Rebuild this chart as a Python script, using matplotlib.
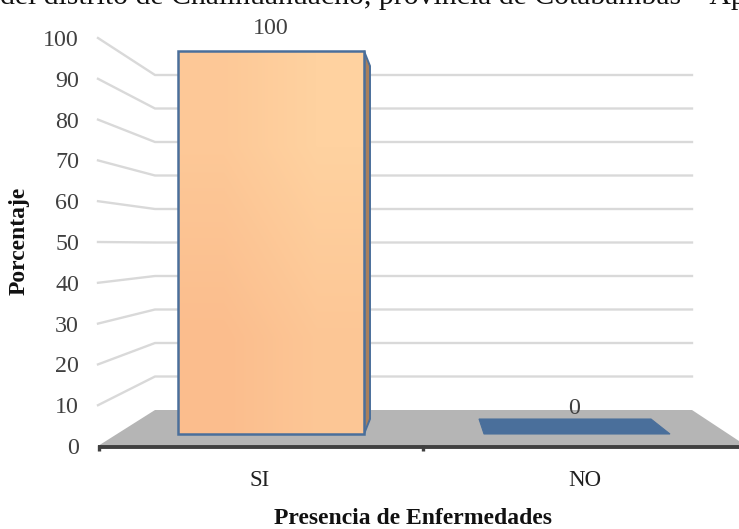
import numpy as np
import matplotlib
matplotlib.use('Agg')
import matplotlib.pyplot as plt
from matplotlib.patches import Polygon

plt.rcParams['font.family'] = ['Liberation Serif', 'DejaVu Serif']

categories = ['SI', 'NO']
values = [100, 0]
y_ticks = [0, 10, 20, 30, 40, 50, 60, 70, 80, 90, 100]
title = 'del distrito de Challhuahuacho, provincia de Cotabambas – Apurímac'
x_label = 'Presencia de Enfermedades'
y_label = 'Porcentaje'


# y pixel of a value on each of the three depth planes
def y_front(v):
    return 446 - 4.08 * v


def y_back(v):
    return 410 - 3.35 * v


def y_bar_front(v):
    return 434 - 3.83 * v


def y_bar_back(v):
    return 419 - 3.53 * v


fig = plt.figure(figsize=(7.39, 5.29), dpi=100)
ax = fig.add_axes([0, 0, 1, 1])
ax.set_xlim(0, 739)
ax.set_ylim(529, 0)
ax.axis('off')

grid = '#d9d9d9'
blue = '#4a6f9b'

# floor
ax.add_patch(Polygon([(98, 446), (155, 410), (692, 410), (739, 441), (739, 446)],
                     fc='#b5b5b5', ec='none', zorder=1))

# gridlines, side wall and back wall
for v in y_ticks[1:]:
    ax.plot([98, 155, 692], [y_front(v), y_back(v), y_back(v)], color=grid, lw=1.7, zorder=1)

# axis line and ticks
ax.plot([98, 739], [447, 447], color='#404040', lw=2.8, zorder=3, solid_capstyle='butt')
for x in [99, 423]:
    ax.plot([x, x], [445, 451], color='#404040', lw=2.4, zorder=3, solid_capstyle='butt')

# SI bar
v = values[0]
ax.add_patch(Polygon([(364, y_bar_front(v)), (370, y_bar_back(v)), (370, y_bar_back(0)), (364, y_bar_front(0))],
                     fc='#a9805c', ec=blue, lw=1.4, zorder=4))
grad = np.array([[0.55, 1.0], [0.0, 0.45]])
cmap = matplotlib.colors.LinearSegmentedColormap.from_list('peach', ['#fbbd8d', '#ffd2a0'])
im = ax.imshow(grad, extent=[178, 364, y_bar_front(0), y_bar_front(v)], cmap=cmap,
               interpolation='bilinear', aspect='auto', zorder=4)
ax.set_xlim(0, 739)
ax.set_ylim(529, 0)
ax.add_patch(Polygon([(178, y_bar_front(0)), (178, y_bar_front(v)), (364, y_bar_front(v)), (364, y_bar_front(0))],
                     fc='none', ec=blue, lw=1.8, zorder=5))

# NO bar, flat on the floor
ax.add_patch(Polygon([(484, 434), (670, 434), (651, 419), (479, 419)], fc=blue, ec=blue, lw=0.8, zorder=4))

# texts
for v in y_ticks:
    ax.text(79, y_front(v) + 2.5, str(v), ha='right', va='center', fontsize=17.3, color='#404040', zorder=6)
ax.text(271, 29, str(values[0]), ha='center', va='center', fontsize=17.3, color='#404040', zorder=6)
ax.text(574, 409, str(values[1]), ha='center', va='center', fontsize=17.3, color='#404040', zorder=6)
ax.text(260, 480, categories[0], ha='center', va='center', fontsize=16.5, color='#202020')
ax.text(585, 480, categories[1], ha='center', va='center', fontsize=16.5, color='#202020')
ax.text(413, 519, x_label, ha='center', va='center', fontsize=17, fontweight='bold', color='#111111')
ax.text(19, 241, y_label, ha='center', va='center', rotation=90, fontsize=17, fontweight='bold', color='#111111')
ax.text(0, 4, title, ha='left', va='baseline', fontsize=21.4, color='#111111', clip_on=True)

fig.savefig('out.png', dpi=100)
